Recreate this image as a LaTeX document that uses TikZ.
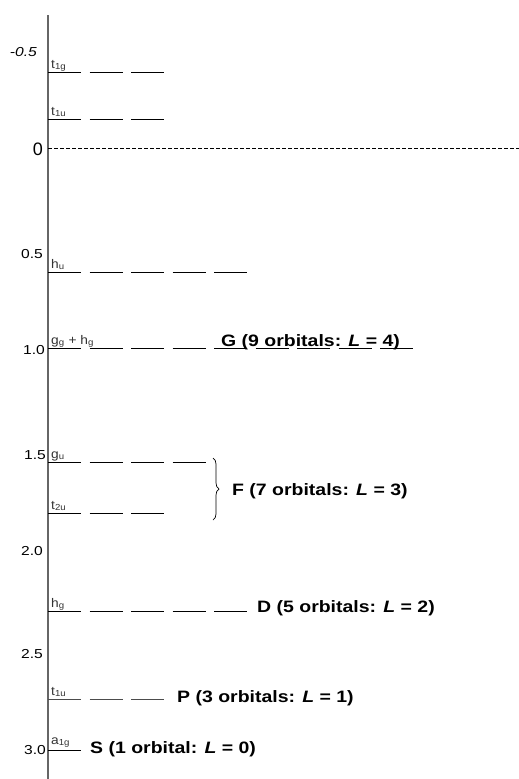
\documentclass[tikz,border=0pt]{standalone}
\usepackage{fontspec}
\setmainfont{Liberation Sans}
\usetikzlibrary{decorations.pathreplacing}
\newcommand\wide[2][1.18]{\scalebox{#1}[1]{#2}}
\newcommand\lvlrow[3]{% style, y, count
  \foreach \k in {1,...,#3}{
    \draw[#1] ({48+41.5*(\k-1)},#2) -- ++(33,0);
  }}
\begin{document}
\begin{tikzpicture}[x=1pt,y=-1pt,
  lvl/.style={line width=0.9pt, black},
  lvlthin/.style={line width=0.6pt, black!70},
  sym/.style={anchor=base west, inner sep=0pt, font=\fontsize{12.5}{14}\selectfont, text=black!80},
  tick/.style={anchor=base east, inner sep=0pt, font=\fontsize{13}{15}\selectfont},
  orb/.style={anchor=base west, inner sep=0pt, font=\bfseries\fontsize{16.5}{19}\selectfont},
]
\useasboundingbox (0,0) rectangle (519,779);
% axis
\coordinate (axtop) at (48,15);
\coordinate (axbot) at (48,779);
\draw[black!60, line width=1.3pt] (axtop) -- (axbot);
% zero line
\coordinate (zl) at (48,148);
\coordinate (zr) at (519,148);
\draw[line width=0.7pt, dash pattern=on 3.5pt off 2.5pt] (zl) -- (zr);
% tick labels
\node[tick, font=\itshape\fontsize{13}{15}\selectfont] (tm05) at (37,56) {\wide[1.2]{-0.5}};
\node[tick, font=\fontsize{18}{20}\selectfont] (t00) at (43,155.5) {0};
\node[tick] (t05) at (43,258) {\wide[1.2]{0.5}};
\node[tick] (t10) at (45,354) {\wide[1.2]{1.0}};
\node[tick] (t15) at (46,459) {\wide[1.2]{1.5}};
\node[tick] (t20) at (43,555) {\wide[1.2]{2.0}};
\node[tick] (t25) at (43,658) {\wide[1.2]{2.5}};
\node[tick] (t30) at (46,754) {\wide[1.2]{3.0}};
% levels
\lvlrow{lvl}{72}{3}
\lvlrow{lvl}{119}{3}
\lvlrow{lvl}{272}{5}
\lvlrow{lvl}{348}{9}
\lvlrow{lvl}{462}{4}
\lvlrow{lvl}{513}{3}
\lvlrow{lvl}{611}{5}
\lvlrow{lvlthin}{699}{3}
\lvlrow{lvl}{750}{1}
% symmetry labels
\node[sym] (s1) at (51,68) {\wide[1.1]{t\textsubscript{1g}}};
\node[sym] (s2) at (51,115) {\wide[1.1]{t\textsubscript{1u}}};
\node[sym] (s3) at (51,268) {\wide[1.1]{h\textsubscript{u}}};
\node[sym] (s4) at (51,344) {\wide[1.1]{g\textsubscript{g} + h\textsubscript{g}}};
\node[sym] (s5) at (51,458) {\wide[1.1]{g\textsubscript{u}}};
\node[sym] (s6) at (51,509) {\wide[1.1]{t\textsubscript{2u}}};
\node[sym] (s7) at (51,607) {\wide[1.1]{h\textsubscript{g}}};
\node[sym] (s8) at (51,695) {\wide[1.1]{t\textsubscript{1u}}};
\node[sym] (s9) at (51,744) {\wide[1.1]{a\textsubscript{1g}}};
% brace
\coordinate (bt) at (213,458);
\coordinate (bb) at (213,520);
\draw[line width=0.7pt, decorate, decoration={brace, amplitude=6pt}] (bt) -- (bb);
% orbital labels
\node[orb] (G) at (221,346) {\wide{G (9 orbitals: \textit{L} = 4)}};
\node[orb] (F) at (232,495) {\wide{F (7 orbitals: \textit{L} = 3)}};
\node[orb] (D) at (257,612) {\wide{D (5 orbitals: \textit{L} = 2)}};
\node[orb] (P) at (177,702) {\wide{P (3 orbitals: \textit{L} = 1)}};
\node[orb] (S) at (90,753) {\wide{S (1 orbital: \textit{L} = 0)}};
\end{tikzpicture}
\end{document}
